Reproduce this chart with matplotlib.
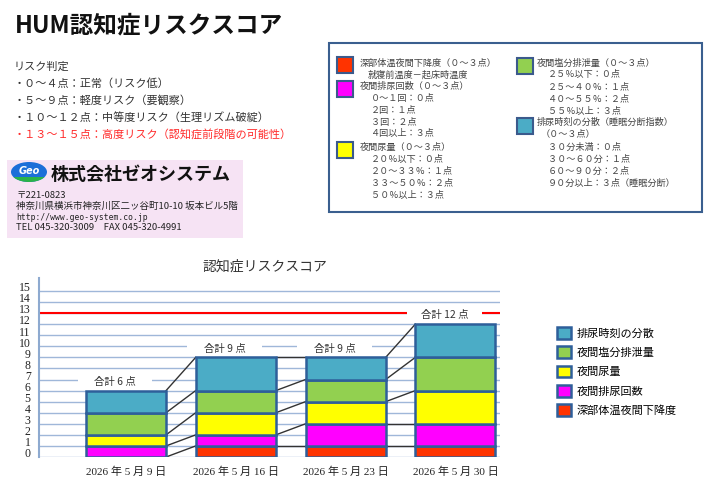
import numpy as np
import matplotlib
matplotlib.use("Agg")
import matplotlib.pyplot as plt
import matplotlib.transforms as mtransforms
from matplotlib.patches import Rectangle, Ellipse

plt.rcParams['font.family'] = ['Noto Sans CJK JP', 'DejaVu Sans']

# データ
dates = ["2026 年 5 月 9 日", "2026 年 5 月 16 日", "2026 年 5 月 23 日", "2026 年 5 月 30 日"]
series_names = ["深部体温夜間下降度", "夜間排尿回数", "夜間尿量", "夜間塩分排泄量", "排尿時刻の分散"]
series_colors = ["#ff3300", "#ff00ff", "#ffff00", "#92d050", "#4bacc6"]
temp_drop = [0, 1, 1, 1]
void_count = [1, 1, 2, 2]
urine_volume = [1, 2, 2, 3]
salt_excretion = [2, 2, 2, 3]
void_dispersion = [2, 3, 2, 3]
risk_line = 13

risk_lines = [
    "リスク判定",
    "・０～４点：正常（リスク低）",
    "・５～９点：軽度リスク（要観察）",
    "・１０～１２点：中等度リスク（生理リズム破綻）",
    "・１３～１５点：高度リスク（認知症前段階の可能性）",
]

W, H = 715, 483
fig = plt.figure(figsize=(W / 100, H / 100), dpi=100)


def fx(px):
    return px / W


def fy(py):
    return 1 - py / H


def frect(x0, y0, x1, y1, **kw):
    r = Rectangle((fx(x0), fy(y1)), (x1 - x0) / W, (y1 - y0) / H,
                  transform=fig.transFigure, **kw)
    fig.add_artist(r)
    return r


# タイトル
fig.text(fx(15), fy(25), "HUM認知症リスクスコア", fontsize=17, fontweight="bold",
         va="center", ha="left", color="#111111")

# リスク判定
for i, line in enumerate(risk_lines):
    col = "#ff2a2a" if i == 4 else "#333333"
    fig.text(fx(14), fy(67 + i * 16.8), line, fontsize=8, va="center", color=col)

# 会社ロゴ
frect(7, 160, 243, 238, facecolor="#f6e3f4", edgecolor="none")
e_blue = Ellipse((fx(29), fy(172)), 36 / W, 20 / H, transform=fig.transFigure,
                 facecolor="#1c6fd8", edgecolor="none")
fig.add_artist(e_blue)
e_green = Ellipse((fx(29), fy(172)), 36 / W, 20 / H, transform=fig.transFigure,
                  facecolor="#2bb34a", edgecolor="none")
fig.add_artist(e_green)
clip = Rectangle((fx(11), fy(183)), 36 / W, 6 / H, transform=fig.transFigure)
e_green.set_clip_path(clip)
fig.text(fx(29), fy(171), "Geo", fontsize=7, fontweight="bold", style="italic",
         color="white", ha="center", va="center", family="DejaVu Sans")
fig.text(fx(51), fy(174), "株式会社ゼオシステム", fontsize=13, fontweight="bold",
         va="center", color="#111111")
fig.text(fx(16), fy(195), "〒221-0823", fontsize=6.8, va="center", color="#222222")
fig.text(fx(16), fy(206), "神奈川県横浜市神奈川区二ッ谷町10-10 坂本ビル5階", fontsize=6.8,
         va="center", color="#222222")
fig.text(fx(16), fy(217), "http://www.geo-system.co.jp", fontsize=5.8, va="center",
         color="#222222", family="DejaVu Sans Mono")
fig.text(fx(16), fy(228), "TEL 045-320-3009　FAX 045-320-4991", fontsize=6.8,
         va="center", color="#222222")

# 説明ボックス
frect(329, 43, 702, 212, facecolor="white", edgecolor="#3a5f8f", linewidth=1.5)
box_squares = [
    (series_colors[0], 337, 57),
    (series_colors[1], 337, 81),
    (series_colors[2], 337, 142),
    (series_colors[3], 517, 58),
    (series_colors[4], 517, 118),
]
for c, x, y in box_squares:
    frect(x, y, x + 16, y + 16, facecolor=c, edgecolor="#3b5a8c", linewidth=1.5)

box_texts = [
    (360, 63, "深部体温夜間下降度（０～３点）"),
    (368, 75, "就寝前温度－起床時温度"),
    (360, 86, "夜間排尿回数（０～３点）"),
    (371, 98, "０～１回：０点"),
    (371, 110, "２回：１点"),
    (371, 122, "３回：２点"),
    (371, 134, "４回以上：３点"),
    (360, 147, "夜間尿量（０～３点）"),
    (371, 159, "２０％以下：０点"),
    (371, 171, "２０～３３％：１点"),
    (371, 183, "３３～５０％：２点"),
    (371, 195, "５０％以上：３点"),
    (537, 63, "夜間塩分排泄量（０～３点）"),
    (548, 75, "２５％以下：０点"),
    (548, 87, "２５～４０％：１点"),
    (548, 99, "４０～５５％：２点"),
    (548, 111, "５５％以上：３点"),
    (537, 122, "排尿時刻の分散（睡眠分断指数）"),
    (541, 134, "（０～３点）"),
    (548, 147, "３０分未満：０点"),
    (548, 159, "３０～６０分：１点"),
    (548, 171, "６０～９０分：２点"),
    (548, 183, "９０分以上：３点（睡眠分断）"),
]
for x, y, t in box_texts:
    fig.text(fx(x), fy(y), t, fontsize=6.6, va="center", color="#444444")

# グラフ
ax = fig.add_axes([fx(39), fy(457), (500 - 39) / W, (457 - 278) / H])
data = np.array([temp_drop, void_count, urine_volume, salt_excretion, void_dispersion])
xpos = np.arange(len(dates))
width = 0.73
bottoms = np.zeros(len(dates))
bars = []
for vals, name, col in zip(data, series_names, series_colors):
    b = ax.bar(xpos, vals, bottom=bottoms, width=width, color=col,
               edgecolor="#2e5f9a", linewidth=1.8, label=name, zorder=3)
    bars.append(b)
    bottoms = bottoms + vals

tops = np.cumsum(data, axis=0)
for i in range(len(dates) - 1):
    for k in range(len(series_names)):
        ax.plot([xpos[i] + width / 2, xpos[i + 1] - width / 2],
                [tops[k][i], tops[k][i + 1]], color="#333333", lw=1.0, zorder=2)

totals = tops[-1]
for x, t in zip(xpos, totals):
    ly = t + 0.8
    ax.add_patch(Rectangle((x - 0.44, ly - 0.38), 0.68, 0.76, facecolor="white",
                           edgecolor="none", zorder=4))
    ax.text(x - 0.1, ly, f"合計 {int(t)} 点", ha="center", va="center", fontsize=7.5,
            color="#333333", zorder=5)

ax.axhline(risk_line, color="#ff0000", lw=1.5, zorder=2)
ax.set_xlim(-0.792, 3.406)
ax.set_ylim(0, 16.17)
ax.set_yticks(range(16))
ax.set_yticklabels([str(v) for v in range(16)], family=["Liberation Serif", "Noto Sans CJK JP"],
                   fontsize=8.5, color="#222222")
ax.set_xticks(xpos)
ax.set_xticklabels(dates, family=["Liberation Serif", "Noto Sans CJK JP"], fontsize=8,
                   color="#222222")
ax.tick_params(axis="both", length=0)
ax.tick_params(axis="y", pad=6)
ax.tick_params(axis="x", pad=7)
ax.grid(axis="y", color="#9fb7d9", lw=1.0, zorder=0)
ax.set_axisbelow(True)
for s in ["top", "right", "bottom"]:
    ax.spines[s].set_visible(False)
ax.spines["left"].set_color("#8eaad0")
ax.spines["left"].set_linewidth(1.5)
offset = mtransforms.ScaledTranslation(0, 3 / 72, fig.dpi_scale_trans)
for lbl in ax.get_yticklabels():
    lbl.set_transform(lbl.get_transform() + offset)

fig.text(fx(265), fy(267), "認知症リスクスコア", fontsize=10, ha="center", va="center",
         color="#333333")

fig.legend(bars[::-1], series_names[::-1], loc="upper left",
           bbox_to_anchor=(fx(557), fy(327)), frameon=False, fontsize=8,
           handlelength=1.25, handleheight=1.25, handletextpad=0.5,
           labelspacing=0.68, borderaxespad=0, borderpad=0)

fig.savefig("out.png", dpi=100)
